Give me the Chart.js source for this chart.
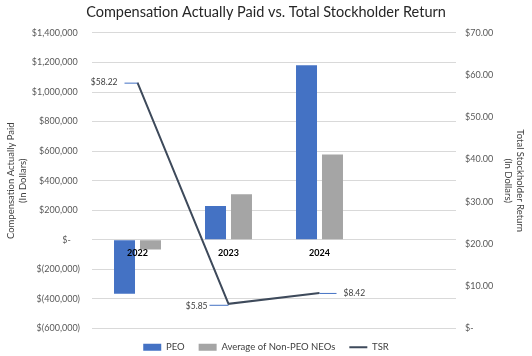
<!DOCTYPE html>
<html><head><meta charset="utf-8">
<script src="https://cdn.jsdelivr.net/npm/chart.js@4/dist/chart.umd.min.js"></script>
<style>html,body{margin:0;padding:0;background:#fff}#wrap{width:532px;height:356px}</style>
</head><body><div id="wrap"><canvas id="c" width="532" height="356"></canvas></div>
<script>
const categories = ['2022', '2023', '2024', ''];
const peoValues = [-365000, 229000, 1181000, null];
const neoValues = [-65000, 308000, 578000, null];
const tsrValues = [58.22, 5.85, 8.42, null];
const tsrLabels = ['$58.22', '$5.85', '$8.42'];
const leftTicks = [-600000, -400000, -200000, 0, 200000, 400000, 600000, 800000, 1000000, 1200000, 1400000];
const rightTicks = [0, 10, 20, 30, 40, 50, 60, 70];

const FONT = 'Lato, "Open Sans", sans-serif';
const fmtLeft = v => {
  if (v === 0) return '$-    ';
  const s = Math.abs(v).toLocaleString('en-US');
  return v < 0 ? '$(' + s + ')' : '$' + s + ' ';
};
const fmtRight = v => v === 0 ? '$-' : '$' + v.toFixed(2);

const labelPlugin = {
  id: 'tsrLabels',
  afterDatasetsDraw(chart) {
    const meta = chart.getDatasetMeta(2);
    const ctx = chart.ctx;
    ctx.save();
    ctx.font = '8.5px ' + FONT;
    ctx.fillStyle = '#404040';
    ctx.textBaseline = 'middle';
    meta.data.forEach((pt, i) => {
      if (tsrValues[i] == null) return;
      const x = pt.x, y = pt.y;
      ctx.strokeStyle = '#4472C4';
      ctx.lineWidth = 1;
      ctx.beginPath();
      if (i === 2) {
        ctx.moveTo(x, y + 0.5); ctx.lineTo(x + 17, y + 0.5); ctx.stroke();
        ctx.textAlign = 'left';
        ctx.fillText(tsrLabels[i], x + 24, y);
      } else if (i === 0) {
        ctx.moveTo(x, y + 0.5); ctx.lineTo(x - 13, y + 0.5); ctx.stroke();
        ctx.textAlign = 'right';
        ctx.fillText(tsrLabels[i], x - 20, y);
      } else {
        ctx.moveTo(x, y + 1.5); ctx.lineTo(x - 19, y + 1.5); ctx.stroke();
        ctx.textAlign = 'right';
        ctx.fillText(tsrLabels[i], x - 21, y + 2);
      }
    });
    ctx.restore();
  }
};

new Chart(document.getElementById('c'), {
  data: {
    labels: categories,
    datasets: [
      { type: 'bar', label: 'PEO', data: peoValues, backgroundColor: '#4472C4', yAxisID: 'y', order: 2,
        barPercentage: 0.808, categoryPercentage: 0.571 },
      { type: 'bar', label: 'Average of Non-PEO NEOs', data: neoValues, backgroundColor: '#A5A5A5', yAxisID: 'y', order: 2,
        barPercentage: 0.808, categoryPercentage: 0.571 },
      { type: 'line', label: 'TSR', data: tsrValues, borderColor: '#3E4A5B', backgroundColor: '#3E4A5B', borderWidth: 2,
        pointRadius: 0, yAxisID: 'y1', order: 1, tension: 0 }
    ]
  },
  options: {
    responsive: false, animation: false,
    layout: { padding: { left: 0, right: 0, top: 0, bottom: -6 } },
    plugins: {
      title: { display: true, text: 'Compensation Actually Paid vs. Total Stockholder Return',
        font: { family: FONT, size: 14.5, weight: 'normal', lineHeight: 1.2 }, color: '#262626', padding: { top: 4, bottom: 11.5 } },
      legend: { position: 'bottom', labels: { font: { family: FONT, size: 9.5 }, color: '#404040',
        usePointStyle: true, pointStyleWidth: 18, boxHeight: 7, padding: 14,
        generateLabels(chart) {
          const items = Chart.defaults.plugins.legend.labels.generateLabels(chart);
          items.sort((a, b) => a.datasetIndex - b.datasetIndex);
          items.forEach(it => {
            if (it.datasetIndex === 2) { it.pointStyle = 'line'; it.lineWidth = 2; it.strokeStyle = '#3E4A5B'; }
            else { it.pointStyle = 'rect'; it.lineWidth = 0; }
          });
          return items;
        } } },
      tooltip: { enabled: false }
    },
    scales: {
      x: { position: { y: 0 }, grid: { display: false, drawTicks: false }, border: { display: false },
        ticks: { z: 1, font: { family: FONT, size: 9, weight: 'bold' }, color: '#000', padding: 8 } },
      y: { position: 'left', min: -600000, max: 1400000,
        afterBuildTicks(s) { s.ticks = leftTicks.map(v => ({ value: v })); },
        afterFit(s) { s.width = 92; },
        grid: { color: '#D9D9D9', drawTicks: false }, border: { display: false },
        ticks: { callback: fmtLeft, font: { family: FONT, size: 9 }, color: '#595959', padding: 12 },
        title: { display: true, text: ['Compensation Actually Paid', '(In Dollars)'], font: { family: FONT, size: 9.5, lineHeight: 1.25 }, color: '#404040', padding: { top: 5, bottom: 0 } } },
      y1: { position: 'right', min: 0, max: 70,
        afterBuildTicks(s) { s.ticks = rightTicks.map(v => ({ value: v })); },
        afterFit(s) { s.width = 76; },
        grid: { display: false, drawTicks: false }, border: { display: false },
        ticks: { callback: fmtRight, font: { family: FONT, size: 9 }, color: '#595959', padding: 9 },
        title: { display: true, text: ['Total Stockholder Return', '(In Dollars)'], font: { family: FONT, size: 9.5, lineHeight: 1.25 }, color: '#404040', padding: { top: 6, bottom: 0 } } }
    }
  },
  plugins: [labelPlugin]
});
</script></body></html>
